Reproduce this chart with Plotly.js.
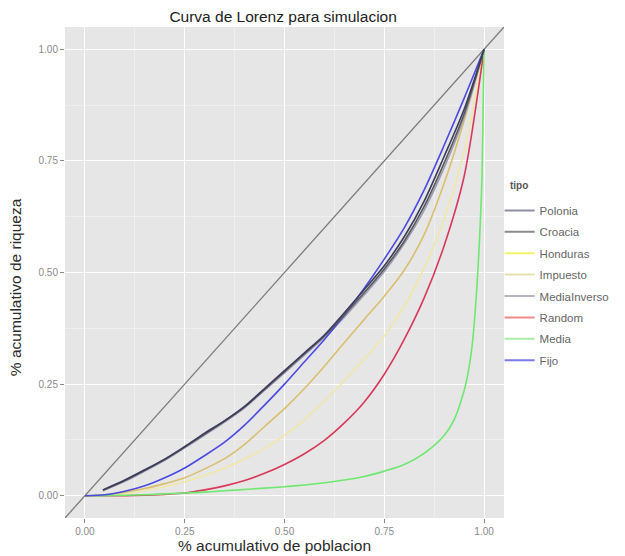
<!DOCTYPE html>
<html>
<head>
<meta charset="utf-8">
<script src="https://cdn.plot.ly/plotly-3.0.1.min.js"></script>
<style>html,body{margin:0;padding:0;background:#fff;}#chart{width:625px;height:556px;}</style>
</head>
<body>
<div id="chart"></div>
<script>
// ---- data ----
var seriesNames = ["Polonia", "Croacia", "Honduras", "Impuesto", "MediaInverso", "Random", "Media", "Fijo"];

var xPolonia = [0.045, 0.1, 0.15, 0.2, 0.25, 0.3, 0.35, 0.4, 0.45, 0.5, 0.55, 0.6, 0.65, 0.7, 0.75, 0.8, 0.85, 0.9, 0.95, 1];
var yPolonia = [0.013, 0.035, 0.058, 0.082, 0.11, 0.14, 0.168, 0.2, 0.24, 0.28, 0.32, 0.36, 0.41, 0.462, 0.515, 0.58, 0.66, 0.76, 0.865, 1];

var xCroacia = [0.045, 0.1, 0.15, 0.2, 0.25, 0.3, 0.35, 0.4, 0.45, 0.5, 0.55, 0.6, 0.65, 0.7, 0.75, 0.8, 0.85, 0.9, 0.95, 1];
var yCroacia = [0.012, 0.034, 0.057, 0.081, 0.109, 0.138, 0.167, 0.199, 0.238, 0.278, 0.318, 0.358, 0.405, 0.455, 0.508, 0.57, 0.648, 0.745, 0.855, 1];

var xHonduras = [0, 0.05, 0.1, 0.15, 0.2, 0.25, 0.3, 0.35, 0.4, 0.45, 0.5, 0.55, 0.6, 0.65, 0.7, 0.75, 0.8, 0.85, 0.9, 0.95, 1];
var yHonduras = [0, 0.002, 0.008, 0.016, 0.027, 0.04, 0.06, 0.083, 0.115, 0.155, 0.195, 0.24, 0.29, 0.343, 0.395, 0.447, 0.505, 0.585, 0.7, 0.84, 1];

var xImpuesto = [0, 0.05, 0.1, 0.15, 0.2, 0.25, 0.3, 0.35, 0.4, 0.45, 0.5, 0.55, 0.6, 0.65, 0.7, 0.75, 0.8, 0.85, 0.9, 0.95, 1];
var yImpuesto = [0, 0.001, 0.005, 0.011, 0.02, 0.031, 0.045, 0.062, 0.082, 0.106, 0.135, 0.17, 0.212, 0.258, 0.306, 0.358, 0.425, 0.51, 0.62, 0.77, 1];

var xMediaInverso = [0.045, 0.1, 0.15, 0.2, 0.25, 0.3, 0.35, 0.4, 0.45, 0.5, 0.55, 0.6, 0.65, 0.7, 0.75, 0.8, 0.85, 0.9, 0.95, 1];
var yMediaInverso = [0.011, 0.032, 0.055, 0.079, 0.107, 0.136, 0.165, 0.197, 0.236, 0.275, 0.315, 0.355, 0.4, 0.45, 0.502, 0.565, 0.64, 0.735, 0.848, 1];

var xRandom = [0, 0.05, 0.1, 0.15, 0.2, 0.25, 0.3, 0.35, 0.4, 0.45, 0.5, 0.55, 0.6, 0.65, 0.7, 0.75, 0.8, 0.85, 0.9, 0.95, 1];
var yRandom = [0, 0, 0, 0.001, 0.003, 0.006, 0.013, 0.022, 0.034, 0.05, 0.07, 0.094, 0.124, 0.163, 0.21, 0.272, 0.35, 0.443, 0.56, 0.715, 1];

var xMedia = [0, 0.05, 0.1, 0.15, 0.2, 0.25, 0.3, 0.35, 0.4, 0.45, 0.5, 0.55, 0.6, 0.65, 0.7, 0.75, 0.8, 0.85, 0.9, 0.925, 0.95, 0.96, 0.97, 0.98, 0.99, 0.995, 1];
var yMedia = [0, 0, 0.001, 0.002, 0.004, 0.006, 0.008, 0.011, 0.014, 0.017, 0.02, 0.024, 0.029, 0.035, 0.043, 0.055, 0.07, 0.095, 0.135, 0.17, 0.235, 0.275, 0.335, 0.44, 0.6, 0.72, 1];

var xFijo = [0, 0.05, 0.1, 0.15, 0.2, 0.25, 0.3, 0.35, 0.4, 0.45, 0.5, 0.55, 0.6, 0.65, 0.7, 0.75, 0.8, 0.85, 0.9, 0.95, 1];
var yFijo = [0, 0.002, 0.01, 0.022, 0.04, 0.062, 0.09, 0.12, 0.158, 0.203, 0.25, 0.3, 0.35, 0.405, 0.465, 0.53, 0.6, 0.685, 0.785, 0.89, 1];

var xEquality = [-0.05, 1.05];
var yEquality = [-0.05, 1.05];

var tickVals = [0, 0.25, 0.5, 0.75, 1];
var tickText = ["0.00", "0.25", "0.50", "0.75", "1.00"];

// ---- styles ----
var lineColors = {
  Polonia: "#3c3c5e",
  Croacia: "#5a5a5a",
  Honduras: "#d9bf6e",
  Impuesto: "#f1e7a6",
  MediaInverso: "#9b9bb4",
  Random: "#d8395a",
  Media: "#6ee86e",
  Fijo: "#4a4ae0"
};
var legendColors = {
  Polonia: "#8f8fa8",
  Croacia: "#8a8a8a",
  Honduras: "#f4f46a",
  Impuesto: "#e6e2b0",
  MediaInverso: "#b4b4c4",
  Random: "#f08a8a",
  Media: "#a8eea8",
  Fijo: "#7a7ae8"
};

var dataX = {Polonia: xPolonia, Croacia: xCroacia, Honduras: xHonduras, Impuesto: xImpuesto, MediaInverso: xMediaInverso, Random: xRandom, Media: xMedia, Fijo: xFijo};
var dataY = {Polonia: yPolonia, Croacia: yCroacia, Honduras: yHonduras, Impuesto: yImpuesto, MediaInverso: yMediaInverso, Random: yRandom, Media: yMedia, Fijo: yFijo};

var FONT = "Liberation Sans, Arial, sans-serif";

var traces = [];
traces.push({
  x: xEquality, y: yEquality, mode: "lines", showlegend: false, hoverinfo: "skip",
  line: {color: "#7a7a7a", width: 1.3}
});
var drawOrder = ["Impuesto", "Honduras", "MediaInverso", "Random", "Media", "Fijo", "Croacia", "Polonia"];
drawOrder.forEach(function (n) {
  traces.push({
    x: dataX[n], y: dataY[n], mode: "lines", name: n, showlegend: false,
    line: {color: lineColors[n], width: 1.6, shape: "spline", smoothing: 0.8}
  });
});
// legend entries (lighter keys as in the reference)
seriesNames.forEach(function (n) {
  traces.push({
    x: [null], y: [null], mode: "lines", name: n, showlegend: true, legendgroup: n,
    line: {color: legendColors[n], width: 2}
  });
});

var axisCommon = {
  range: [-0.05, 1.05],
  tickvals: tickVals,
  ticktext: tickText,
  showgrid: true,
  gridcolor: "#ffffff",
  gridwidth: 1,
  zeroline: false,
  showline: false,
  ticks: "outside",
  ticklen: 4,
  tickcolor: "#8a8a8a",
  tickfont: {family: FONT, size: 10, color: "#8a8a8a"},
  minor: {tick0: 0.125, dtick: 0.25, showgrid: true, gridcolor: "#f2f2f2", gridwidth: 0.7, ticks: ""}
};

var layout = {
  width: 625,
  height: 556,
  margin: {l: 65, r: 121, t: 27, b: 38, autoexpand: false},
  paper_bgcolor: "#ffffff",
  plot_bgcolor: "#e6e6e6",
  title: {
    text: "Curva de Lorenz para simulacion",
    font: {family: FONT, size: 15.5, color: "#222222"},
    x: 0.453, xanchor: "center", y: 0.97, yanchor: "middle"
  },
  xaxis: Object.assign({}, axisCommon),
  yaxis: Object.assign({}, axisCommon),
  annotations: [
    {text: "% acumulativo de poblacion", xref: "paper", yref: "paper", x: 0.478, y: -0.056,
     xanchor: "center", yanchor: "middle", showarrow: false,
     font: {family: FONT, size: 15.5, color: "#2a2a2a"}},
    {text: "% acumulativo de riqueza", xref: "paper", yref: "paper", x: -0.114, y: 0.47,
     xanchor: "center", yanchor: "middle", showarrow: false, textangle: -90,
     font: {family: FONT, size: 15.5, color: "#2a2a2a"}},
    {text: "<b>tipo</b>", xref: "paper", yref: "paper", x: 1.009, y: 0.678,
     xanchor: "left", yanchor: "middle", showarrow: false,
     font: {family: FONT, size: 10, color: "#555555"}}
  ],
  legend: {
    x: 0.99, xanchor: "left", y: 0.656, yanchor: "top",
    bgcolor: "rgba(0,0,0,0)",
    font: {family: FONT, size: 11.5, color: "#666666"},
    tracegroupgap: 2.4,
    itemwidth: 30
  },
  showlegend: true
};

Plotly.newPlot("chart", traces, layout, {displayModeBar: false, staticPlot: true});
</script>
</body>
</html>
